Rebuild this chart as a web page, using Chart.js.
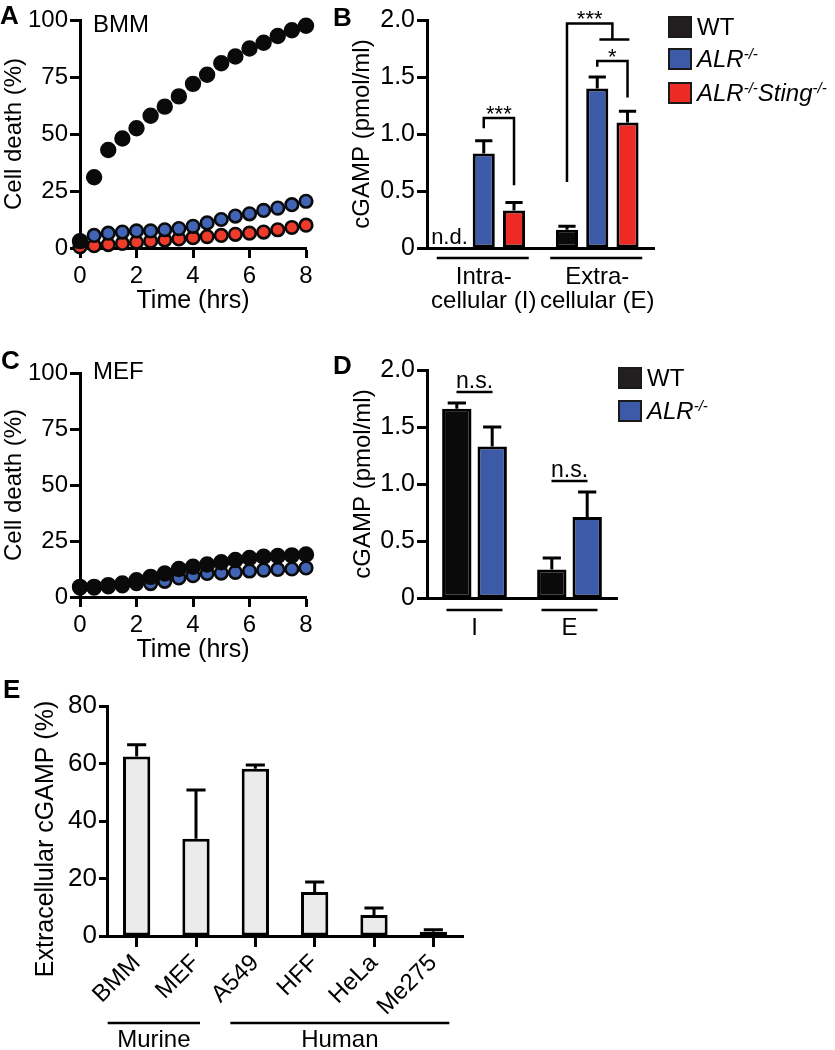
<!DOCTYPE html>
<html>
<head>
<meta charset="utf-8">
<script src="https://cdn.jsdelivr.net/npm/chart.js@4.4.1/dist/chart.umd.min.js"></script>
<style>
html,body{margin:0;padding:0;background:#fff;}
#wrap{position:relative;width:835px;height:1050px;overflow:hidden;font-family:"Liberation Sans",Arial,Helvetica,sans-serif;color:#000;}
#wrap canvas{position:absolute;}
.pl{position:absolute;font-weight:bold;font-size:26px;line-height:26px;}
.lg{position:absolute;height:24px;font-size:24px;line-height:24px;white-space:nowrap;display:flex;align-items:center;}
.sw{display:inline-block;width:20px;height:18px;border:2px solid #1a1a1a;margin-right:5px;}
.lg i{font-style:italic;}
.lg sup{font-size:15px;line-height:0;vertical-align:8px;}
</style>
</head>
<body>
<div id="wrap">
<canvas id="cA" width="330" height="316" style="left:0px;top:0px;width:330px;height:316px"></canvas>
<canvas id="cB" width="332" height="320" style="left:348px;top:0px;width:332px;height:320px"></canvas>
<canvas id="cC" width="330" height="312" style="left:0px;top:353px;width:330px;height:312px"></canvas>
<canvas id="cD" width="300" height="300" style="left:349px;top:350px;width:300px;height:300px"></canvas>
<canvas id="cE" width="460" height="364" style="left:32px;top:686px;width:460px;height:364px"></canvas>

<div class="pl" style="left:0px;top:2px">A</div>
<div class="pl" style="left:333px;top:4px">B</div>
<div class="pl" style="left:1px;top:347px">C</div>
<div class="pl" style="left:333px;top:352px">D</div>
<div class="pl" style="left:3px;top:676px">E</div>

<div class="lg" style="left:668px;top:15px"><span class="sw" style="background:#231f20"></span><span>WT</span></div>
<div class="lg" style="left:668px;top:47px"><span class="sw" style="background:#3d5aa9"></span><i>ALR<sup>-/-</sup></i></div>
<div class="lg" style="left:668px;top:81px"><span class="sw" style="background:#ee2a24"></span><i>ALR<sup>-/-</sup>Sting<sup>-/-</sup></i></div>

<div class="lg" style="left:618px;top:366px"><span class="sw" style="background:#231f20"></span><span>WT</span></div>
<div class="lg" style="left:618px;top:399px"><span class="sw" style="background:#3d5aa9"></span><i>ALR<sup>-/-</sup></i></div>
</div>

<script>
// ---------------- DATA ----------------
const times = [0, 0.5, 1, 1.5, 2, 2.5, 3, 3.5, 4, 4.5, 5, 5.5, 6, 6.5, 7, 7.5, 8];
const timeTicks = [0, 2, 4, 6, 8];
const deathTicks = [0, 25, 50, 75, 100];

// Panel A (BMM) cell death (%)
const bmmWT        = [3, 31, 43, 48, 52.5, 58, 62, 66.5, 72, 76, 81, 84, 87.5, 90, 93, 95.5, 97.5];
const bmmALR       = [3, 5.5, 6.5, 7, 7.5, 7.5, 8, 8.5, 9.5, 11, 12.5, 14, 15, 16.5, 17.5, 19, 20.5];
const bmmALRSting  = [0.5, 1, 1.5, 2, 2.5, 3, 3.5, 4, 4.5, 5, 5.5, 6, 6.5, 7, 8, 9, 10];

// Panel C (MEF) cell death (%)
const mefWT  = [4.5, 4.5, 5.3, 6, 7.5, 9, 10.5, 12.5, 13.5, 14.5, 15.5, 16.5, 17.4, 18, 18.3, 18.6, 19];
const mefALR = [4, 4, 4.5, 5, 6, 6, 7, 8.5, 9.5, 10.5, 10.7, 11, 11.6, 12, 12.3, 12.5, 13];

// Panel B cGAMP (pmol/ml): means and SEM
const bGroups        = [['Intra-', 'cellular (I)'], ['Extra-', 'cellular (E)']];
const bWT            = [null, 0.16];   // intracellular WT: n.d.
const bWTSem         = [null, 0.03];
const bALR           = [0.83, 1.40];
const bALRSem        = [0.11, 0.10];
const bALRSting      = [0.33, 1.10];
const bALRStingSem   = [0.07, 0.10];
const bSig = [
  { a: [[1, 0]], b: [[2, 0]], top: 1.14, endA: 1.05, endB: 0.55, label: '***' },
  { a: [[1, 1]], b: [[2, 1]], top: 1.64, endA: 1.59, endB: 1.32, label: '*' },
  { a: [[0, 1]], b: [[1, 1], [2, 1]], top: 1.97, endA: 0.58, endB: 1.83, label: '***', cross: true }
];

// Panel D cGAMP (pmol/ml)
const dGroups  = ['I', 'E'];
const dWT      = [1.66, 0.25];
const dWTSem   = [0.05, 0.10];
const dALR     = [1.33, 0.71];
const dALRSem  = [0.17, 0.22];
const dSig     = ['n.s.', 'n.s.'];

// Panel E extracellular cGAMP (%)
const eCells  = ['BMM', 'MEF', 'A549', 'HFF', 'HeLa', 'Me275'];
const eVals   = [62.4, 33.8, 58.2, 15.3, 7.3, 1.5];
const eSem    = [4.1, 17.0, 1.3, 3.5, 2.4, 0.7];
const eGroupNames = ['Murine', 'Human'];
const eGroupFirst = [0, 2];
const eGroupLast  = [1, 5];

// ---------------- STYLE ----------------
const FONT = '"Liberation Sans", Arial, Helvetica, sans-serif';
const BLACK = '#0a0a0a', BLUE = '#3d5aa9', RED = '#ee2a24', GREY = '#ebebeb';
const PT_BLUE = '#4264b5', PT_RED = '#ef3b2c';
Chart.defaults.font.family = FONT;
Chart.defaults.font.size = 24;
Chart.defaults.color = '#000';

function yAxis(max, step, title, width, cb, tickSize, tickLen) {
  return {
    min: 0, max: max,
    border: { display: true, width: 3, color: '#000' },
    grid: { display: true, drawOnChartArea: false, drawTicks: true, tickLength: tickLen || 10, tickWidth: 3, tickColor: '#000', color: '#000' },
    ticks: { stepSize: step, padding: 2, color: '#000', font: { size: tickSize || 24, lineHeight: 1.2 }, callback: cb },
    title: { display: !!title, text: title, padding: 0, color: '#000', font: { size: 24, lineHeight: 1.2 } },
    afterFit: s => { s.width = width; }
  };
}

const errorBars = {
  id: 'errorBars',
  afterDatasetsDraw(chart, args, opts) {
    const ctx = chart.ctx, ys = chart.scales.y;
    chart.data.datasets.forEach((ds, i) => {
      if (!ds.sem) return;
      const meta = chart.getDatasetMeta(i);
      meta.data.forEach((bar, j) => {
        const v = ds.data[j], s = ds.sem[j];
        if (v == null || s == null) return;
        const top = ys.getPixelForValue(v + s);
        const w = bar.width * (opts.cap || 0.7);
        ctx.save();
        ctx.strokeStyle = '#000'; ctx.lineWidth = 3; ctx.lineCap = 'butt';
        ctx.beginPath();
        ctx.moveTo(bar.x, bar.y); ctx.lineTo(bar.x, top);
        ctx.moveTo(bar.x - w / 2, top); ctx.lineTo(bar.x + w / 2, top);
        ctx.stroke();
        ctx.restore();
      });
    });
  }
};

function cornerLabel(text, dx, dy) {
  return {
    id: 'corner',
    afterDraw(chart) {
      const c = chart.ctx;
      c.save(); c.font = '24px ' + FONT; c.fillStyle = '#000'; c.textAlign = 'left'; c.textBaseline = 'middle';
      c.fillText(text, chart.chartArea.left + dx, chart.chartArea.top + dy);
      c.restore();
    }
  };
}

function pts(vals) { return times.map((t, i) => ({ x: t, y: vals[i] })); }

function scatterChart(id, datasets, label, dy) {
  return new Chart(document.getElementById(id), {
    type: 'scatter',
    data: { datasets: datasets },
    options: {
      responsive: false, animation: false, devicePixelRatio: 1, events: [],
      layout: { padding: { top: 20, right: 24, left: 0, bottom: 0 } },
      plugins: { legend: { display: false }, tooltip: { enabled: false } },
      scales: {
        x: {
          type: 'linear', min: 0, max: 8,
          border: { display: true, width: 3, color: '#000' },
          grid: { display: true, drawOnChartArea: false, drawTicks: true, tickLength: 10, tickWidth: 3, tickColor: '#000' },
          ticks: { stepSize: 2, padding: 4, color: '#000', font: { size: 24, lineHeight: 1.2 } },
          afterBuildTicks: s => { s.ticks = timeTicks.map(v => ({ value: v })); },
          title: { display: true, text: 'Time (hrs)', padding: 0, color: '#000', font: { size: 25, lineHeight: 1.2 } },
          afterFit: s => { s.height = 68; }
        },
        y: Object.assign(yAxis(100, 25, 'Cell death (%)', 80), {
          afterBuildTicks: s => { s.ticks = deathTicks.map(v => ({ value: v })); }
        })
      }
    },
    plugins: [cornerLabel(label, 13, dy)]
  });
}

function ptSet(label, vals, fill, radius, bw) {
  return { label: label, data: pts(vals), showLine: false, clip: false,
    pointRadius: radius, pointBorderWidth: bw, pointBackgroundColor: fill, pointBorderColor: BLACK,
    pointHoverRadius: radius };
}

// ---------- Panel A ----------
scatterChart('cA', [
  ptSet('WT', bmmWT, BLACK, 7.2, 2),
  ptSet('ALR-/-', bmmALR, PT_BLUE, 6.3, 2.6),
  ptSet('ALR-/-Sting-/-', bmmALRSting, PT_RED, 6.3, 2.6)
], 'BMM', 5);

// ---------- Panel C ----------
scatterChart('cC', [
  ptSet('WT', mefWT, BLACK, 7.2, 2),
  ptSet('ALR-/-', mefALR, PT_BLUE, 6.3, 2.6)
], 'MEF', -1);

const decCb = v => (v === 0 ? '0' : Number(v).toFixed(1));

function barSet(label, data, sem, color) {
  return { label: label, data: data, sem: sem, backgroundColor: color, borderColor: '#000', borderWidth: 3, borderSkipped: false };
}

// ---------- Panel B ----------
const bPlugin = {
  id: 'bAnn',
  afterDraw(chart) {
    const ctx = chart.ctx, y = chart.scales.y, x = chart.scales.x, ca = chart.chartArea;
    const bx = (d, j) => chart.getDatasetMeta(d).data[j].x;
    const avgX = list => list.reduce((s, p) => s + bx(p[0], p[1]), 0) / list.length;
    ctx.save();
    ctx.fillStyle = '#000'; ctx.strokeStyle = '#000';
    // n.d.
    bWT.forEach((v, j) => {
      if (v == null) {
        const xx = 2 * bx(1, j) - bx(2, j);
        ctx.font = '22px ' + FONT; ctx.textAlign = 'center'; ctx.textBaseline = 'alphabetic';
        ctx.fillText('n.d.', xx - 4, y.getPixelForValue(0) - 4);
      }
    });
    // significance brackets
    ctx.lineWidth = 2.5; ctx.lineJoin = 'miter';
    bSig.forEach(s => {
      const xa = avgX(s.a), xb = avgX(s.b);
      const yt = y.getPixelForValue(s.top), ya = y.getPixelForValue(s.endA), yb = y.getPixelForValue(s.endB);
      ctx.beginPath();
      ctx.moveTo(xa, ya); ctx.lineTo(xa, yt); ctx.lineTo(xb, yt); ctx.lineTo(xb, yb);
      if (s.cross) { ctx.moveTo(xb - 13, yb); ctx.lineTo(xb + 17, yb); }
      ctx.stroke();
      ctx.font = '22px ' + FONT; ctx.textAlign = 'center'; ctx.textBaseline = 'alphabetic';
      ctx.fillText(s.label, (xa + xb) / 2, yt + 3);
    });
    // group underlines
    ctx.lineWidth = 2.5;
    bGroups.forEach((g, i) => {
      const cx = x.getPixelForValue(i);
      ctx.beginPath(); ctx.moveTo(cx - 47, ca.bottom + 10); ctx.lineTo(cx + 45, ca.bottom + 10); ctx.stroke();
    });
    ctx.restore();
  }
};

new Chart(document.getElementById('cB'), {
  type: 'bar',
  data: {
    labels: bGroups,
    datasets: [
      barSet('WT', bWT, bWTSem, BLACK),
      barSet('ALR-/-', bALR, bALRSem, BLUE),
      barSet('ALR-/-Sting-/-', bALRSting, bALRStingSem, RED)
    ]
  },
  options: {
    responsive: false, animation: false, devicePixelRatio: 1, events: [],
    layout: { padding: { top: 20, right: 26, left: 0, bottom: 0 } },
    datasets: { bar: { categoryPercentage: 0.8, barPercentage: 0.73 } },
    plugins: { legend: { display: false }, tooltip: { enabled: false }, errorBars: { cap: 0.78 } },
    scales: {
      x: {
        border: { display: true, width: 3, color: '#000' },
        grid: { display: false, drawTicks: false },
        ticks: { padding: 17, color: '#000', font: { size: 24, lineHeight: 1.0 }, maxRotation: 0, autoSkip: false },
        afterFit: s => { s.height = 72; }
      },
      y: yAxis(2, 0.5, 'cGAMP (pmol/ml)', 79, decCb, 25)
    }
  },
  plugins: [errorBars, bPlugin]
});

// ---------- Panel D ----------
const dPlugin = {
  id: 'dAnn',
  afterDraw(chart) {
    const ctx = chart.ctx, y = chart.scales.y, x = chart.scales.x, ca = chart.chartArea;
    ctx.save(); ctx.fillStyle = '#000'; ctx.strokeStyle = '#000';
    dGroups.forEach((g, i) => {
      const cx = x.getPixelForValue(i);
      const hi = Math.max(dWT[i] + dWTSem[i], dALR[i] + dALRSem[i]);
      const uy = y.getPixelForValue(hi) - 11;
      ctx.lineWidth = 2.5;
      ctx.beginPath(); ctx.moveTo(cx - 18, uy); ctx.lineTo(cx + 18, uy); ctx.stroke();
      ctx.font = '23px ' + FONT; ctx.textAlign = 'center'; ctx.textBaseline = 'alphabetic';
      ctx.fillText(dSig[i], cx, uy - 4);
      ctx.beginPath(); ctx.moveTo(cx - 28, ca.bottom + 12); ctx.lineTo(cx + 28, ca.bottom + 12); ctx.stroke();
    });
    ctx.restore();
  }
};

new Chart(document.getElementById('cD'), {
  type: 'bar',
  data: {
    labels: dGroups,
    datasets: [
      barSet('WT', dWT, dWTSem, BLACK),
      barSet('ALR-/-', dALR, dALRSem, BLUE)
    ]
  },
  options: {
    responsive: false, animation: false, devicePixelRatio: 1, events: [],
    layout: { padding: { top: 20, right: 32, left: 0, bottom: 0 } },
    datasets: { bar: { categoryPercentage: 0.745, barPercentage: 0.83 } },
    plugins: { legend: { display: false }, tooltip: { enabled: false }, errorBars: { cap: 0.62 } },
    scales: {
      x: {
        border: { display: true, width: 3, color: '#000' },
        grid: { display: false, drawTicks: false },
        ticks: { padding: 18, color: '#000', font: { size: 24, lineHeight: 1.0 }, maxRotation: 0, autoSkip: false },
        afterFit: s => { s.height = 52; }
      },
      y: yAxis(2, 0.5, 'cGAMP (pmol/ml)', 78, decCb, 25)
    }
  },
  plugins: [errorBars, dPlugin]
});

// ---------- Panel E ----------
const ePlugin = {
  id: 'eAnn',
  afterDraw(chart) {
    const ctx = chart.ctx, x = chart.scales.x, y = chart.scales.y, ca = chart.chartArea;
    const pad = [[-29, 4], [-25, 16]];
    ctx.save(); ctx.fillStyle = '#000'; ctx.strokeStyle = '#000'; ctx.lineWidth = 2.5;
    eGroupNames.forEach((name, i) => {
      const x1 = x.getPixelForValue(eGroupFirst[i]) + pad[i][0];
      const x2 = x.getPixelForValue(eGroupLast[i]) + pad[i][1];
      const ly = ca.bottom + 87;
      ctx.beginPath(); ctx.moveTo(x1, ly); ctx.lineTo(x2, ly); ctx.stroke();
      ctx.font = '24px ' + FONT; ctx.textAlign = 'center'; ctx.textBaseline = 'alphabetic';
      ctx.fillText(name, (x1 + x2) / 2, ca.bottom + 111);
    });
    // y-axis title, placed slightly below the axis centre as in the original
    ctx.save();
    ctx.translate(y.left + 14.5, (ca.top + ca.bottom) / 2 + 18);
    ctx.rotate(-Math.PI / 2);
    ctx.font = '25px ' + FONT; ctx.textAlign = 'center'; ctx.textBaseline = 'middle';
    ctx.fillText('Extracellular cGAMP (%)', 0, 0);
    ctx.restore();
    ctx.restore();
  }
};

new Chart(document.getElementById('cE'), {
  type: 'bar',
  data: {
    labels: eCells,
    datasets: [ { label: 'Extracellular cGAMP', data: eVals, sem: eSem, backgroundColor: GREY, borderColor: '#000', borderWidth: 3, borderSkipped: false } ]
  },
  options: {
    responsive: false, animation: false, devicePixelRatio: 1, events: [],
    layout: { padding: { top: 20, right: 29, left: 0, bottom: 0 } },
    datasets: { bar: { categoryPercentage: 1, barPercentage: 0.46 } },
    plugins: { legend: { display: false }, tooltip: { enabled: false }, errorBars: { cap: 0.7 } },
    scales: {
      x: {
        border: { display: true, width: 3, color: '#000' },
        grid: { display: true, offset: false, drawOnChartArea: false, drawTicks: true, tickLength: 11, tickWidth: 3, tickColor: '#000' },
        ticks: { padding: 2, minRotation: 45, maxRotation: 45, autoSkip: false, color: '#000', font: { size: 24, lineHeight: 1.2 } },
        afterFit: s => { s.height = 114; }
      },
      y: yAxis(80, 20, '', 75, undefined, 26, 8)
    }
  },
  plugins: [errorBars, ePlugin]
});
</script>
</body>
</html>
